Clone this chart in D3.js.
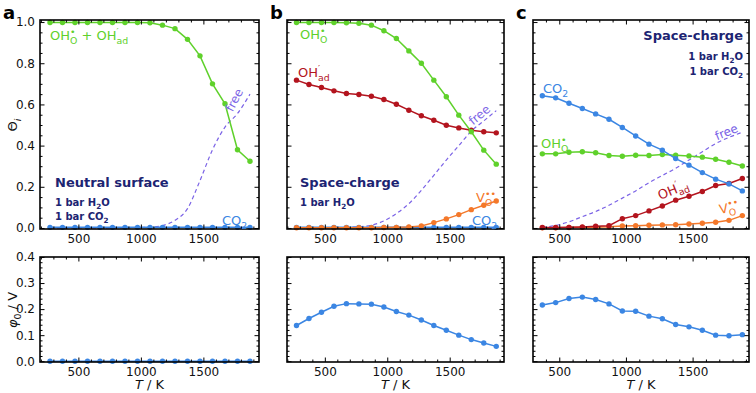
<!DOCTYPE html>
<html>
<head>
<meta charset="utf-8">
<script src="https://cdn.jsdelivr.net/npm/d3@7/dist/d3.min.js"></script>
<style>
  body { margin: 0; background: #fff; }
  svg { font-family: "DejaVu Sans", sans-serif; }
</style>
</head>
<body>
<div id="chart"></div>
<script>
// temperatures (K)
const T17 = [273, 373, 473, 573, 673, 773, 873, 973, 1073, 1173, 1273, 1373, 1473, 1573, 1673, 1773, 1873];
const T16 = [373, 473, 573, 673, 773, 873, 973, 1073, 1173, 1273, 1373, 1473, 1573, 1673, 1773, 1873];

// panel a: neutral surface, 1 bar H2O + 1 bar CO2
const aOH = [0.998, 0.998, 0.998, 0.998, 0.998, 0.998, 0.998, 0.998, 0.997, 0.985, 0.968, 0.916, 0.836, 0.70, 0.603, 0.38, 0.324];
const aFree = [0, 0, 0, 0, 0, 0, 0.001, 0.002, 0.004, 0.012, 0.037, 0.094, 0.23, 0.38, 0.49, 0.556, 0.65];
const aCO2 = [0.003, 0.003, 0.003, 0.003, 0.003, 0.003, 0.003, 0.003, 0.003, 0.003, 0.003, 0.003, 0.003, 0.003, 0.003, 0.003, 0.003];
const aPhi = [0, 0, 0, 0, 0, 0, 0, 0, 0, 0, 0, 0, 0, 0, 0, 0, 0];

// panel b: space-charge, 1 bar H2O
const bOH = [0.998, 0.998, 0.998, 0.998, 0.997, 0.994, 0.985, 0.958, 0.92, 0.86, 0.80, 0.718, 0.637, 0.548, 0.467, 0.378, 0.31];
const bOHad = [0.718, 0.697, 0.682, 0.666, 0.653, 0.648, 0.64, 0.624, 0.601, 0.572, 0.545, 0.523, 0.499, 0.486, 0.475, 0.467, 0.462];
const bVO = [0.001, 0.001, 0.001, 0.001, 0.001, 0.001, 0.001, 0.002, 0.003, 0.005, 0.01, 0.026, 0.044, 0.065, 0.089, 0.11, 0.131];
const bFree = [0, 0, 0, 0.001, 0.003, 0.006, 0.013, 0.034, 0.07, 0.118, 0.183, 0.256, 0.33, 0.40, 0.47, 0.52, 0.57];
const bCO2 = [0.003, 0.003, 0.003, 0.003, 0.003, 0.003, 0.003, 0.003, 0.003, 0.003, 0.003, 0.003, 0.003, 0.003, 0.003, 0.003, 0.003];
const bPhi = [0.137, 0.164, 0.188, 0.211, 0.221, 0.22, 0.219, 0.208, 0.191, 0.177, 0.158, 0.137, 0.119, 0.10, 0.083, 0.07, 0.057];

// panel c: space-charge, 1 bar H2O + 1 bar CO2
const cCO2 = [0.642, 0.632, 0.606, 0.58, 0.554, 0.528, 0.488, 0.447, 0.407, 0.378, 0.337, 0.305, 0.269, 0.237, 0.214, 0.18];
const cOH = [0.36, 0.36, 0.368, 0.37, 0.365, 0.352, 0.348, 0.353, 0.352, 0.357, 0.353, 0.35, 0.344, 0.334, 0.319, 0.301];
const cOHad = [0.002, 0.002, 0.003, 0.005, 0.008, 0.011, 0.045, 0.06, 0.083, 0.107, 0.135, 0.154, 0.177, 0.206, 0.216, 0.24];
const cVO = [0.001, 0.001, 0.002, 0.003, 0.004, 0.006, 0.01, 0.011, 0.013, 0.015, 0.016, 0.019, 0.023, 0.028, 0.037, 0.06];
const cFree = [0.003, 0.012, 0.03, 0.055, 0.08, 0.11, 0.145, 0.18, 0.22, 0.255, 0.29, 0.33, 0.37, 0.41, 0.44, 0.465];
const cPhi = [0.216, 0.225, 0.241, 0.246, 0.237, 0.22, 0.193, 0.192, 0.173, 0.163, 0.141, 0.132, 0.119, 0.10, 0.098, 0.102];

const xTicks = [500, 1000, 1500];
const thetaTicks = [0, 0.2, 0.4, 0.6, 0.8, 1.0];
const phiTicks = [0, 0.1, 0.2, 0.3, 0.4];

const col = {
  green: "#5fd12b",
  red: "#b3141e",
  orange: "#f4782a",
  blue: "#3b86e3",
  purple: "#7b63e6",
  navy: "#1c2472"
};

const width = 756, height = 393;
const svg = d3.select("#chart").append("svg")
  .attr("width", width).attr("height", height);

// text with stacked sup/sub (Kröger-Vink style)
function rich(sel, parts, fs) {
  let cur = 0, pend = 0;
  parts.forEach((p) => {
    if (typeof p === "string" || p.it) {
      const txt = typeof p === "string" ? p : p.it;
      const t = sel.append("tspan").attr("dy", -cur).text(txt);
      if (pend) t.attr("dx", pend);
      if (p.it) t.attr("font-style", "italic");
      cur = 0; pend = 0;
    } else {
      let w1 = 0;
      if (p.sup) {
        const s = sel.append("tspan").attr("dy", -0.42 * fs - cur)
          .attr("font-size", fs * 0.72).text(p.sup);
        if (pend) s.attr("dx", pend);
        w1 = s.node().getComputedTextLength();
        cur = -0.42 * fs; pend = 0;
      }
      const b = sel.append("tspan").attr("dy", 0.28 * fs - cur)
        .attr("font-size", fs * 0.72).text(p.sub);
      if (p.subIt) b.attr("font-style", "italic");
      if (w1) b.attr("dx", -w1);
      const w2 = b.node().getComputedTextLength();
      cur = 0.28 * fs;
      pend = Math.max(0, w1 - w2);
    }
  });
}

function label(g, x, y, parts, opt) {
  const fs = opt.size || 13;
  const t = g.append("text")
    .attr("x", x).attr("y", y)
    .attr("fill", opt.color)
    .attr("font-size", fs)
    .attr("font-weight", opt.bold ? "bold" : null)
    .attr("text-anchor", opt.anchor || "start");
  if (opt.rotate) t.attr("transform", `rotate(${opt.rotate},${x},${y})`);
  rich(t, parts, fs);
  return t;
}

// box with inward major + minor ticks on all four sides
function frame(g, x, y, opt) {
  const [x0, x1] = x.range(), [y0, y1] = y.range();
  const minorX = d3.range(200, 2000, 100)
    .filter((v) => v >= x.domain()[0] && v <= x.domain()[1] && v % 500 !== 0);
  const minorY = d3.range(0, opt.ymax + 1e-9, opt.yminor)
    .filter((v) => !opt.yticks.some((m) => Math.abs(m - v) < 1e-9));
  const fx = d3.format("d"), fy = d3.format(".1f");

  const axes = [
    [() => d3.axisBottom(x), `translate(0,${y0})`, fx, xTicks, minorX],
    [() => d3.axisTop(x), `translate(0,${y1})`, null, xTicks, minorX],
    [() => d3.axisLeft(y), `translate(${x0},0)`, opt.ylabels ? fy : null, opt.yticks, minorY],
    [() => d3.axisRight(y), `translate(${x1},0)`, null, opt.yticks, minorY]
  ];
  axes.forEach(([mk, tr, fmt, major, minor]) => {
    const gm = g.append("g").attr("transform", tr)
      .call(mk().tickValues(minor).tickSizeInner(-2.5).tickSizeOuter(0).tickFormat(() => ""));
    gm.select(".domain").remove();
    const gM = g.append("g").attr("transform", tr)
      .call(mk().tickValues(major).tickSizeInner(-4.5).tickSizeOuter(0).tickPadding(5)
        .tickFormat(fmt || (() => "")));
    gM.select(".domain").remove();
    gM.selectAll("text").attr("font-size", 12).attr("fill", "#111")
      .attr("font-family", "DejaVu Sans, sans-serif");
  });
  g.selectAll(".tick line").attr("stroke", "#000").attr("stroke-width", 1);
  g.append("rect")
    .attr("x", x0).attr("y", y1)
    .attr("width", x1 - x0).attr("height", y0 - y1)
    .attr("fill", "none").attr("stroke", "#000").attr("stroke-width", 1.6);
}

function series(g, x, y, T, vals, color, dashed) {
  const pts = T.map((t, i) => [t, vals[i]]);
  const line = d3.line().x((d) => x(d[0])).y((d) => y(d[1]));
  if (dashed) line.curve(d3.curveMonotoneX);
  g.append("path").datum(pts)
    .attr("d", line)
    .attr("fill", "none")
    .attr("stroke", color)
    .attr("stroke-width", dashed ? 1.2 : 1.5)
    .attr("stroke-dasharray", dashed ? "4,3" : null);
  if (!dashed) {
    g.selectAll(null).data(pts).enter().append("circle")
      .attr("cx", (d) => x(d[0])).attr("cy", (d) => y(d[1]))
      .attr("r", 2.7).attr("fill", color);
  }
}

const panels = [
  { key: "a", left: 40, right: 259, xdom: [193, 1945], T: T17, letterX: 3,
    top: [[aFree, col.purple, true], [aCO2, col.blue], [aOH, col.green]],
    phi: aPhi },
  { key: "b", left: 287, right: 504, xdom: [197, 1935], T: T17, letterX: 270,
    top: [[bFree, col.purple, true], [bCO2, col.blue], [bVO, col.orange], [bOHad, col.red], [bOH, col.green]],
    phi: bPhi },
  { key: "c", left: 533, right: 749, xdom: [303, 1923], T: T16, letterX: 516,
    top: [[cFree, col.purple, true], [cVO, col.orange], [cOHad, col.red], [cOH, col.green], [cCO2, col.blue]],
    phi: cPhi }
];

const topY = [20, 229], botY = [257, 362];

panels.forEach((p, k) => {
  const x = d3.scaleLinear().domain(p.xdom).range([p.left, p.right]);
  const yT = d3.scaleLinear().domain([-0.005, 1.01]).range([topY[1], topY[0]]);
  const yB = d3.scaleLinear().domain([-0.003, 0.4]).range([botY[1], botY[0]]);

  // upper panel: coverages
  const gT = svg.append("g");
  const clipId = "clip" + p.key;
  svg.append("clipPath").attr("id", clipId).append("rect")
    .attr("x", p.left).attr("y", topY[0] - 3)
    .attr("width", p.right - p.left).attr("height", topY[1] - topY[0] + 6);
  const dT = gT.append("g").attr("clip-path", `url(#${clipId})`);
  p.top.forEach(([v, c, d]) => series(dT, x, yT, p.T, v, c, d));
  frame(gT, x, yT, { ymax: 1.0, yminor: 0.05, yticks: thetaTicks, ylabels: k === 0 });

  // lower panel: potential
  const gB = svg.append("g");
  const clipB = "clipb" + p.key;
  svg.append("clipPath").attr("id", clipB).append("rect")
    .attr("x", p.left).attr("y", botY[0] - 3)
    .attr("width", p.right - p.left).attr("height", botY[1] - botY[0] + 6);
  const dB = gB.append("g").attr("clip-path", `url(#${clipB})`);
  series(dB, x, yB, p.T, p.phi, col.blue);
  frame(gB, x, yB, { ymax: 0.4, yminor: 0.02, yticks: phiTicks, ylabels: k === 0 });

  // x axis title
  label(svg, (p.left + p.right) / 2, 389, [{ it: "T" }, " / K"], { color: "#111", size: 13, anchor: "middle" });

  // panel letter
  svg.append("text").attr("x", p.letterX).attr("y", 19)
    .attr("font-size", 18).attr("font-weight", "bold").text(p.key);
});

// y axis titles
label(svg, 17, 125, ["Θ", { sub: "i", subIt: true }], { color: "#111", size: 13, anchor: "middle", rotate: -90 });
label(svg, 17, 310, [{ it: "φ" }, { sub: "0" }, " / V"], { color: "#111", size: 13, anchor: "middle", rotate: -90 });

// panel a annotations
label(svg, 50, 40, ["OH", { sup: "•", sub: "O" }, " + OH", { sup: "′", sub: "ad" }], { color: col.green, size: 13 });
label(svg, 238, 102, ["free"], { color: col.purple, size: 12, anchor: "middle", rotate: -62 });
label(svg, 222, 225, ["CO", { sub: "2" }], { color: col.blue, size: 13 });
label(svg, 55, 187, ["Neutral surface"], { color: col.navy, size: 13, bold: true });
label(svg, 55, 206, ["1 bar H", { sub: "2" }, "O"], { color: col.navy, size: 10, bold: true });
label(svg, 55, 220, ["1 bar CO", { sub: "2" }], { color: col.navy, size: 10, bold: true });

// panel b annotations
label(svg, 300, 39, ["OH", { sup: "•", sub: "O" }], { color: col.green, size: 13 });
label(svg, 298, 77, ["OH", { sup: "′", sub: "ad" }], { color: col.red, size: 13 });
label(svg, 300, 187, ["Space-charge"], { color: col.navy, size: 13, bold: true });
label(svg, 300, 206, ["1 bar H", { sub: "2" }, "O"], { color: col.navy, size: 10, bold: true });
label(svg, 476, 202, ["V", { sup: "••", sub: "O" }], { color: col.orange, size: 13 });
label(svg, 472, 225, ["CO", { sub: "2" }], { color: col.blue, size: 13 });
label(svg, 482, 118, ["free"], { color: col.purple, size: 12, anchor: "middle", rotate: -40 });

// panel c annotations
label(svg, 743, 40, ["Space-charge"], { color: col.navy, size: 13, bold: true, anchor: "end" });
label(svg, 743, 60, ["1 bar H", { sub: "2" }, "O"], { color: col.navy, size: 10, bold: true, anchor: "end" });
label(svg, 743, 75, ["1 bar CO", { sub: "2" }], { color: col.navy, size: 10, bold: true, anchor: "end" });
label(svg, 543, 93, ["CO", { sub: "2" }], { color: col.blue, size: 13 });
label(svg, 541, 148, ["OH", { sup: "•", sub: "O" }], { color: col.green, size: 13 });
label(svg, 660, 200, ["OH", { sup: "′", sub: "ad" }], { color: col.red, size: 13, rotate: -22 });
label(svg, 728, 136, ["free"], { color: col.purple, size: 12, anchor: "middle", rotate: -22 });
label(svg, 720, 214, ["V", { sup: "••", sub: "O" }], { color: col.orange, size: 13, rotate: -10 });
</script>
</body>
</html>
